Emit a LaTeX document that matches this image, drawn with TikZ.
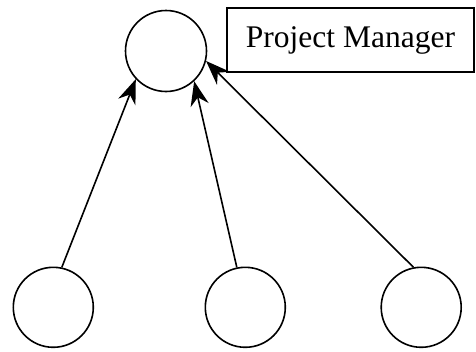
\documentclass[tikz,border=0pt]{standalone}
\usepackage{fontspec}
\setmainfont{Liberation Serif}
\usetikzlibrary{arrows.meta}
\tikzset{
  person/.style={circle, draw, line width=1.6pt, minimum size=80pt, inner sep=0pt},
  labelbox/.style={rectangle, draw, line width=1.6pt, minimum width=247pt, minimum height=64pt, inner sep=0pt, font=\fontsize{31.5pt}{36pt}\selectfont},
  link/.style={line width=1.6pt, -{Stealth[scale=2.4]}}
}
\begin{document}
\begin{tikzpicture}[x=1pt,y=1pt]
\useasboundingbox (0,0) rectangle (476,-351);
\node[person, minimum size=81pt] (pm) at (166,-51) {};
\node[labelbox] (lbl) at (350.5,-40) {Project Manager};
\node[person] (b1) at (53.3,-307.3) {};
\node[person] (b2) at (245.3,-307.3) {};
\node[person] (b3) at (421.2,-307.3) {};
\draw[link] (b1.78) -- (pm.223);
\draw[link] (b2.102) -- (pm.313);
\draw[link] (b3.101) -- (pm.-14.5);
\end{tikzpicture}
\end{document}
